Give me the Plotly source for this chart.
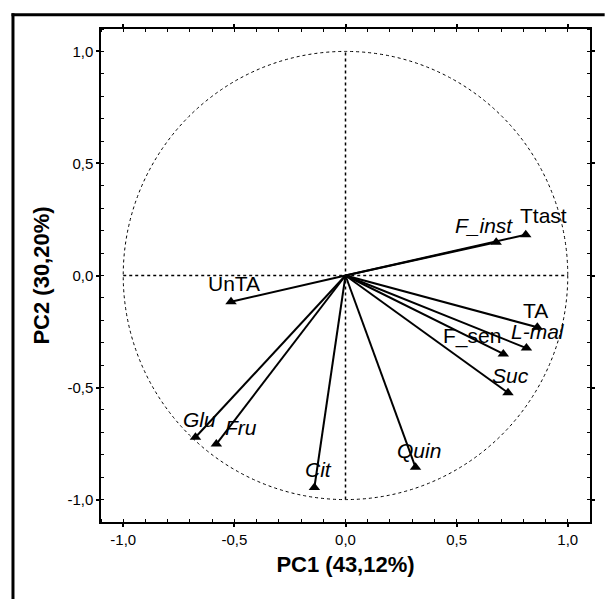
import plotly.graph_objects as go
import numpy as np

variables = ["Ttast", "F_inst", "UnTA", "TA", "L-mal", "F_sen", "Suc", "Glu", "Fru", "Cit", "Quin"]
pc1 = [0.811, 0.678, -0.515, 0.863, 0.814, 0.710, 0.731, -0.675, -0.581, -0.140, 0.315]
pc2 = [0.182, 0.148, -0.117, -0.231, -0.324, -0.350, -0.523, -0.722, -0.752, -0.946, -0.856]
italic = [False, True, False, False, True, False, True, True, True, True, True]

# label offsets in pixels (x right, y up)
label_shift = {
    "Ttast": (18, 19), "F_inst": (-12, 17), "UnTA": (3, 18), "TA": (-2, 17),
    "L-mal": (12, 17), "F_sen": (-31, 18), "Suc": (3, 17), "Glu": (4, 18),
    "Fru": (25, 17), "Cit": (4, 18), "Quin": (3, 17),
}

FONT = "Arial, Liberation Sans, sans-serif"

fig = go.Figure()

# vectors
lx, ly = [], []
for x, y in zip(pc1, pc2):
    lx += [0, x, None]
    ly += [0, y, None]
fig.add_trace(go.Scatter(x=lx, y=ly, mode="lines", line=dict(color="black", width=2),
                         hoverinfo="skip", showlegend=False))
fig.add_trace(go.Scatter(x=pc1, y=pc2, mode="markers", text=variables,
                         marker=dict(symbol="triangle-up", size=10, color="black"),
                         showlegend=False))

for name, x, y, it in zip(variables, pc1, pc2, italic):
    dx, dy = label_shift[name]
    fig.add_annotation(x=x, y=y, text=f"<i>{name}</i>" if it else name, showarrow=False,
                       xshift=dx, yshift=dy, font=dict(family=FONT, size=21, color="black"))

# unit circle and cross lines
fig.add_shape(type="circle", x0=-1, y0=-1, x1=1, y1=1, line=dict(color="black", width=1, dash="dot"))
fig.add_shape(type="line", x0=-1, y0=0, x1=1, y1=0, line=dict(color="black", width=1.5, dash="dot"))
fig.add_shape(type="line", x0=0, y0=-1, x1=0, y1=1, line=dict(color="black", width=1.5, dash="dot"))

# outer frame: only top and left edges are inside the page
fig.add_shape(type="line", xref="paper", yref="paper", x0=-0.183, y0=1.029, x1=1.03, y1=1.029,
              line=dict(color="black", width=3))
fig.add_shape(type="line", xref="paper", yref="paper", x0=-0.180, y0=1.032, x1=-0.180, y1=-0.16,
              line=dict(color="black", width=3))

tickvals = [-1.0, -0.5, 0.0, 0.5, 1.0]
ticktext = ["-1,0", "-0,5", "0,0", "0,5", "1,0"]
axis_common = dict(range=[-1.1, 1.1], tickvals=tickvals, ticktext=ticktext,
                   showgrid=False, zeroline=False, showline=True, linecolor="black", linewidth=1.5,
                   mirror="allticks", ticks="outside", ticklen=3, tickcolor="black", tickwidth=1.5,
                   tickfont=dict(family=FONT, size=15, color="black"),
                   minor=dict(dtick=0.1, tick0=0, ticks="inside", ticklen=3, tickcolor="black", tickwidth=1))

fig.update_layout(
    width=607, height=599,
    margin=dict(l=101, r=12, t=29, b=77),
    paper_bgcolor="white", plot_bgcolor="white",
    xaxis=dict(**axis_common, title=dict(text="<b>PC1 (43,12%)</b>", standoff=10,
                                         font=dict(family=FONT, size=22, color="black"))),
    yaxis=dict(**axis_common, title=dict(text="<b>PC2 (30,20%)</b>", standoff=12,
                                         font=dict(family=FONT, size=22, color="black"))),
)

fig.write_html("out.html")
